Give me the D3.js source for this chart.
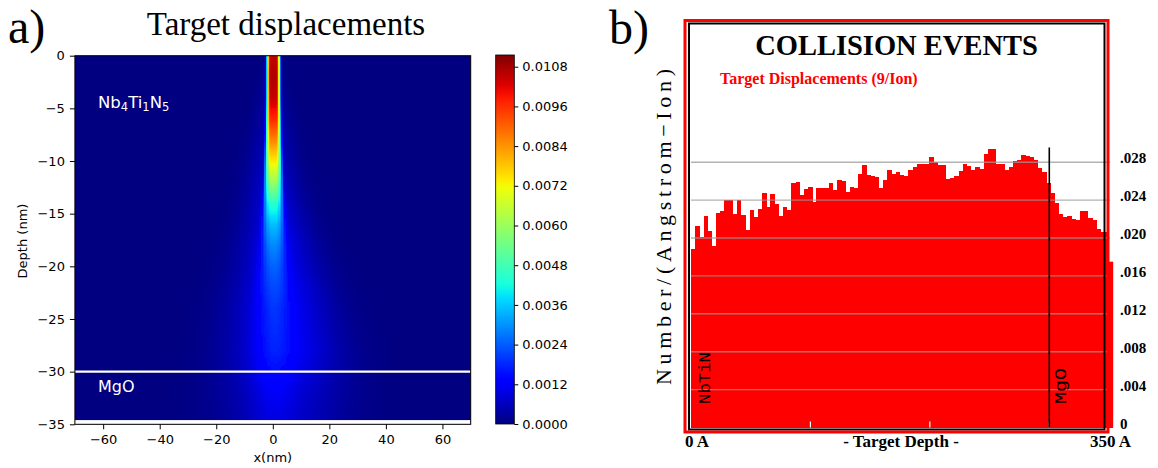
<!DOCTYPE html>
<html><head><meta charset="utf-8">
<script src="https://cdn.jsdelivr.net/npm/d3@7"></script>
<style>body{margin:0;background:#fff;} svg{display:block;}</style>
</head><body>
<svg id="c" width="1158" height="468"></svg>
<script>
// ---------------- DATA ----------------
// Panel a) heat map profiles, read per depth (nm)
const depthKnots = [0, -2, -4, -6, -8, -10, -12, -14, -16, -18, -20, -22, -24, -26, -28, -30, -32, -34, -35];
const corePeak   = [0.0103, 0.0104, 0.0101, 0.0092, 0.0080, 0.0067, 0.0052, 0.0036, 0.0025, 0.0018, 0.0014, 0.0010, 0.0008, 0.0007, 0.0006, 0.0005, 0.0004, 0.0003, 0.0003];
const coreWidth  = [2.4, 2.4, 2.4, 2.5, 2.6, 2.8, 3.0, 3.3, 3.7, 4.1, 4.6, 5.1, 5.6, 6.0, 6.5, 7.0, 7.5, 8.0, 8.0];
const coreSharp  = [6, 6, 6, 6, 5.5, 5, 4.5, 4, 3.5, 3, 2.5, 2.5, 2, 2, 2, 2, 2, 2, 2];
const haloPeak   = [0.0002, 0.0003, 0.0004, 0.0005, 0.0006, 0.0007, 0.0008, 0.0009, 0.0010, 0.0011, 0.0011, 0.0012, 0.0012, 0.0012, 0.0012, 0.0010, 0.0008, 0.0007, 0.0007];
const haloWidth  = [3, 4, 5, 6, 7, 8, 9, 10, 11, 12.5, 14, 15.5, 17, 18, 19, 20, 21, 21, 21];
const haloCenter = [0, 0, 0, 0, 0, 0, 0, 0.5, 1, 1.5, 2, 2.5, 3, 3.5, 4, 4, 4, 4, 4];
const xTicksA = [-60, -40, -20, 0, 20, 40, 60];
const yTicksA = [0, -5, -10, -15, -20, -25, -30, -35];
const cbTicks = [0, 0.0012, 0.0024, 0.0036, 0.0048, 0.0060, 0.0072, 0.0084, 0.0096, 0.0108];
const cbMax = 0.011154;
const interfaceDepth = -30;

// Panel b) SRIM collision events: target displacements per 3.5 A bin
const binWidthA = 3.5;
const barValues = [
 0.0188,0.0213,0.0201,0.0223,0.0207,0.0192,0.0226,0.0228,0.0240,0.0240,
 0.0225,0.0240,0.0224,0.0208,0.0230,0.0222,0.0231,0.0248,0.0233,0.0246,
 0.0236,0.0223,0.0233,0.0230,0.0258,0.0259,0.0245,0.0252,0.0254,0.0238,
 0.0253,0.0253,0.0253,0.0258,0.0251,0.0261,0.0260,0.0249,0.0254,0.0253,
 0.0268,0.0277,0.0267,0.0265,0.0264,0.0253,0.0261,0.0272,0.0268,0.0270,
 0.0266,0.0265,0.0272,0.0275,0.0278,0.0278,0.0278,0.0286,0.0280,0.0277,
 0.0277,0.0262,0.0263,0.0265,0.0271,0.0278,0.0276,0.0272,0.0275,0.0273,
 0.0289,0.0294,0.0294,0.0278,0.0278,0.0272,0.0275,0.0281,0.0282,0.0288,
 0.0287,0.0285,0.0282,0.0274,0.0270,0.0258,0.0248,0.0237,0.0225,0.0222,
 0.0223,0.0220,0.0219,0.0228,0.0228,0.0221,0.0219,0.0210,0.0206,0.0206,
 0.0175];
const yTicksB = [0, 0.004, 0.008, 0.012, 0.016, 0.020, 0.024, 0.028];
const yTickLabelsB = ["0", ".004", ".008", ".012", ".016", ".020", ".024", ".028"];
const minorTicksB = [100, 200, 300];
const mgoDepthA = 300;

// ---------------- DRAW ----------------
const svg = d3.select("#c");
const SANS = "DejaVu Sans, sans-serif";
const SERIF = "Liberation Serif, Times New Roman, serif";
const MONO = "Liberation Mono, DejaVu Sans Mono, monospace";

// jet colormap via linear scales
const jr = d3.scaleLinear().domain([0,0.35,0.66,0.89,1]).range([0,0,1,1,0.5]).clamp(true);
const jg = d3.scaleLinear().domain([0,0.125,0.375,0.64,0.91,1]).range([0,0,1,1,0,0]).clamp(true);
const jb = d3.scaleLinear().domain([0,0.11,0.34,0.65,1]).range([0.5,1,1,0,0]).clamp(true);
const jet = t => d3.rgb(jr(t)*255, jg(t)*255, jb(t)*255).formatHex();
const cNorm = d3.scaleLinear().domain([0, cbMax]).range([0,1]).clamp(true);
const color = v => jet(cNorm(v));

// ---- panel a ----
const xA = d3.scaleLinear().domain([-70,70]).range([74.9,470.7]);
const yA = d3.scaleLinear().domain([0,-35]).range([55.7,424.3]);
const prof = arr => d3.scaleLinear().domain(depthKnots).range(arr).clamp(true);
const pCore = prof(corePeak), wCore = prof(coreWidth), sCore = prof(coreSharp);
const pHalo = prof(haloPeak), wHalo = prof(haloWidth), cHalo = prof(haloCenter);
function field(x, d){
  const c = pCore(d)*Math.exp(-Math.pow(Math.abs((x-0.2)/wCore(d)), sCore(d)));
  const h = pHalo(d)*Math.exp(-Math.pow((x-cHalo(d))/wHalo(d), 2));
  return c + h;
}
const defs = svg.append("defs");
defs.append("clipPath").attr("id","clipA").append("rect")
  .attr("x", xA(-70)).attr("y", yA(0)).attr("width", xA(70)-xA(-70)).attr("height", yA(-35)-yA(0));
const blur = defs.append("filter").attr("id","blurA").attr("x","-5%").attr("y","-5%").attr("width","110%").attr("height","110%");
blur.append("feGaussianBlur").attr("stdDeviation","0 1.0");

const cells = [];
const dx = 0.5, dd = 0.25;
for (let d = 1; d > -35.5; d -= dd) {
  for (let x = -72; x < 72; x += dx) {
    cells.push({x0:x, d0:d, v: field(x+dx/2, d-dd/2)});
  }
}
const heat = svg.append("g").attr("clip-path","url(#clipA)").append("g").attr("filter","url(#blurA)");
heat.selectAll("rect").data(cells).join("rect")
  .attr("x", c => xA(c.x0)).attr("y", c => yA(c.d0))
  .attr("width", xA(dx)-xA(0)+0.3).attr("height", yA(-dd)-yA(0)+0.3)
  .attr("fill", c => color(c.v)).attr("shape-rendering","crispEdges");

// white lines (interface + bottom)
svg.append("line").attr("x1", xA(-70)).attr("x2", xA(70)).attr("y1", yA(interfaceDepth)).attr("y2", yA(interfaceDepth))
  .attr("stroke","#fff").attr("stroke-width",2.2);
svg.append("rect").attr("x", xA(-70)).attr("width", xA(70)-xA(-70)).attr("y", yA(-34.6)).attr("height", yA(-35)-yA(-34.6))
  .attr("fill","#fff");

// frame
svg.append("rect").attr("x", xA(-70)).attr("y", yA(0)).attr("width", xA(70)-xA(-70)).attr("height", yA(-35)-yA(0))
  .attr("fill","none").attr("stroke","#000").attr("stroke-width",1);

const minus = d => d < 0 ? "\u2212" + Math.abs(d) : String(d);
const gxA = svg.append("g").attr("transform",`translate(0,${yA(-35)})`)
  .call(d3.axisBottom(xA).tickValues(xTicksA).tickSize(5).tickPadding(5).tickFormat(minus));
const gyA = svg.append("g").attr("transform",`translate(${xA(-70)},0)`)
  .call(d3.axisLeft(yA).tickValues(yTicksA).tickSize(5).tickPadding(5).tickFormat(minus));
[gxA, gyA].forEach(g => {
  g.select(".domain").remove();
  g.selectAll("text").attr("font-family", SANS).attr("font-size", 13).attr("fill","#000");
  g.selectAll("line").attr("stroke","#000");
});
svg.append("text").attr("x", xA(0)).attr("y", 462).attr("text-anchor","middle")
  .attr("font-family", SANS).attr("font-size", 13).text("x(nm)");
svg.append("text").attr("transform","translate(27,241) rotate(-90)").attr("text-anchor","middle")
  .attr("font-family", SANS).attr("font-size", 13).text("Depth (nm)");

// material labels
const nb = svg.append("text").attr("x", 98).attr("y", 108).attr("font-family", SANS).attr("font-size", 16.5).attr("fill","#fff");
[["Nb",false],["4",true],["Ti",false],["1",true],["N",false],["5",true]].forEach(([t,sub]) => {
  const ts = nb.append("tspan").text(t);
  if (sub) ts.attr("font-size", 11.5).attr("dy", 3); else ts.attr("dy", nb.selectAll("tspan").size() > 1 ? -3 : 0);
});
svg.append("text").attr("x", 98).attr("y", 391.5).attr("font-family", SANS).attr("font-size", 16).attr("fill","#fff").text("MgO");

// titles
svg.append("text").attr("x", 286).attr("y", 35).attr("text-anchor","middle")
  .attr("font-family", SERIF).attr("font-size", 33).text("Target displacements");
svg.append("text").attr("x", 8).attr("y", 43).attr("font-family", SERIF).attr("font-size", 48).text("a)");
svg.append("text").attr("x", 609).attr("y", 44).attr("font-family", SERIF).attr("font-size", 48).text("b)");

// colorbar
const cbX = 495.7, cbW = 18.6;
const yCB = d3.scaleLinear().domain([0, cbMax]).range([424, 55]);
const grad = defs.append("linearGradient").attr("id","cbGrad").attr("x1",0).attr("y1",1).attr("x2",0).attr("y2",0);
d3.range(0, 1.0001, 0.02).forEach(t => grad.append("stop").attr("offset", t).attr("stop-color", jet(t)));
svg.append("rect").attr("x", cbX).attr("y", yCB(cbMax)).attr("width", cbW).attr("height", yCB(0)-yCB(cbMax))
  .attr("fill","url(#cbGrad)").attr("stroke","#000").attr("stroke-width",0.8);
const gcb = svg.append("g").attr("transform",`translate(${cbX+cbW},0)`)
  .call(d3.axisRight(yCB).tickValues(cbTicks).tickSize(4).tickPadding(4).tickFormat(d3.format(".4f")));
gcb.select(".domain").remove();
gcb.selectAll("text").attr("font-family", SANS).attr("font-size", 13).attr("fill","#000");
gcb.selectAll("line").attr("stroke","#000");

// ---- panel b ----
const xB = d3.scaleLinear().domain([0, 350]).range([691, 1109]);
const yB = d3.scaleLinear().domain([0, 0.028]).range([427.5, 162.2]);

svg.append("g").selectAll("rect").data(barValues).join("rect")
  .attr("x", (v,i) => xB(i*binWidthA)).attr("width", xB(binWidthA)-xB(0)+0.3)
  .attr("y", v => yB(v)).attr("height", v => yB(0)-yB(v))
  .attr("fill","#ff0000").attr("shape-rendering","crispEdges");

// gridlines
svg.append("g").selectAll("line").data(yTicksB.filter(v => v > 0)).join("line")
  .attr("x1", xB(0)).attr("x2", xB(350)+1).attr("y1", v => yB(v)).attr("y2", v => yB(v))
  .attr("stroke","#9a9a9a").attr("stroke-opacity",0.75).attr("stroke-width",1.4);

// white minor ticks at bottom
svg.append("g").selectAll("line").data(minorTicksB).join("line")
  .attr("x1", d => xB(d)).attr("x2", d => xB(d)).attr("y1", yB(0)-6).attr("y2", yB(0))
  .attr("stroke","#fff").attr("stroke-width",1.2);

// MgO interface line
svg.append("line").attr("x1", xB(mgoDepthA)).attr("x2", xB(mgoDepthA)).attr("y1", 147.5).attr("y2", yB(0))
  .attr("stroke","#000").attr("stroke-width",1.6);

// frames
svg.append("rect").attr("x", 689).attr("y", 23.5).attr("width", 1104.5-689).attr("height", 429.5-23.5)
  .attr("fill","none").attr("stroke","#000").attr("stroke-width",2);
svg.append("rect").attr("x", 685).attr("y", 20.5).attr("width", 1108-685).attr("height", 432-20.5)
  .attr("fill","none").attr("stroke","#ff0000").attr("stroke-width",3);
// last bin protrudes beyond the frame
svg.append("rect").attr("x", xB(100*binWidthA)).attr("width", xB(binWidthA)-xB(0))
  .attr("y", yB(barValues[100])).attr("height", yB(0)-yB(barValues[100])).attr("fill","#ff0000");

// right tick labels
svg.append("g").selectAll("text").data(yTicksB).join("text")
  .attr("x", 1120).attr("y", v => yB(v)+1)
  .attr("font-family", SERIF).attr("font-weight","bold").attr("font-size", 15)
  .text((v,i) => yTickLabelsB[i]);

// texts
svg.append("text").attr("x", 896.5).attr("y", 55).attr("text-anchor","middle")
  .attr("font-family", SERIF).attr("font-weight","bold").attr("font-size", 28.5).text("COLLISION EVENTS");
svg.append("text").attr("x", 720).attr("y", 84)
  .attr("font-family", SERIF).attr("font-weight","bold").attr("font-size", 16).attr("fill","#ff0000")
  .text("Target Displacements (9/Ion)");
svg.append("text").attr("x", 685).attr("y", 446.5)
  .attr("font-family", SERIF).attr("font-weight","bold").attr("font-size", 17).text("0 A");
svg.append("text").attr("x", 901).attr("y", 446.5).attr("text-anchor","middle")
  .attr("font-family", SERIF).attr("font-weight","bold").attr("font-size", 17).text("- Target Depth -");
svg.append("text").attr("x", 1131).attr("y", 446.5).attr("text-anchor","end")
  .attr("font-family", SERIF).attr("font-weight","bold").attr("font-size", 17).text("350 A");
svg.append("text").attr("transform","translate(671,385) rotate(-90)")
  .attr("font-family", SERIF).attr("font-size", 22).attr("textLength", 316).attr("lengthAdjust","spacing")
  .text("Number/(Angstrom\u2212Ion)");
svg.append("text").attr("transform","translate(710,404) rotate(-90)")
  .attr("font-family", MONO).attr("font-size", 16).attr("textLength", 52).attr("lengthAdjust","spacingAndGlyphs")
  .text("NbTiN");
svg.append("text").attr("transform",`translate(${xB(mgoDepthA)+17},404) rotate(-90)`)
  .attr("font-family", MONO).attr("font-size", 16).attr("textLength", 36).attr("lengthAdjust","spacingAndGlyphs")
  .text("MgO");
</script></body></html>
